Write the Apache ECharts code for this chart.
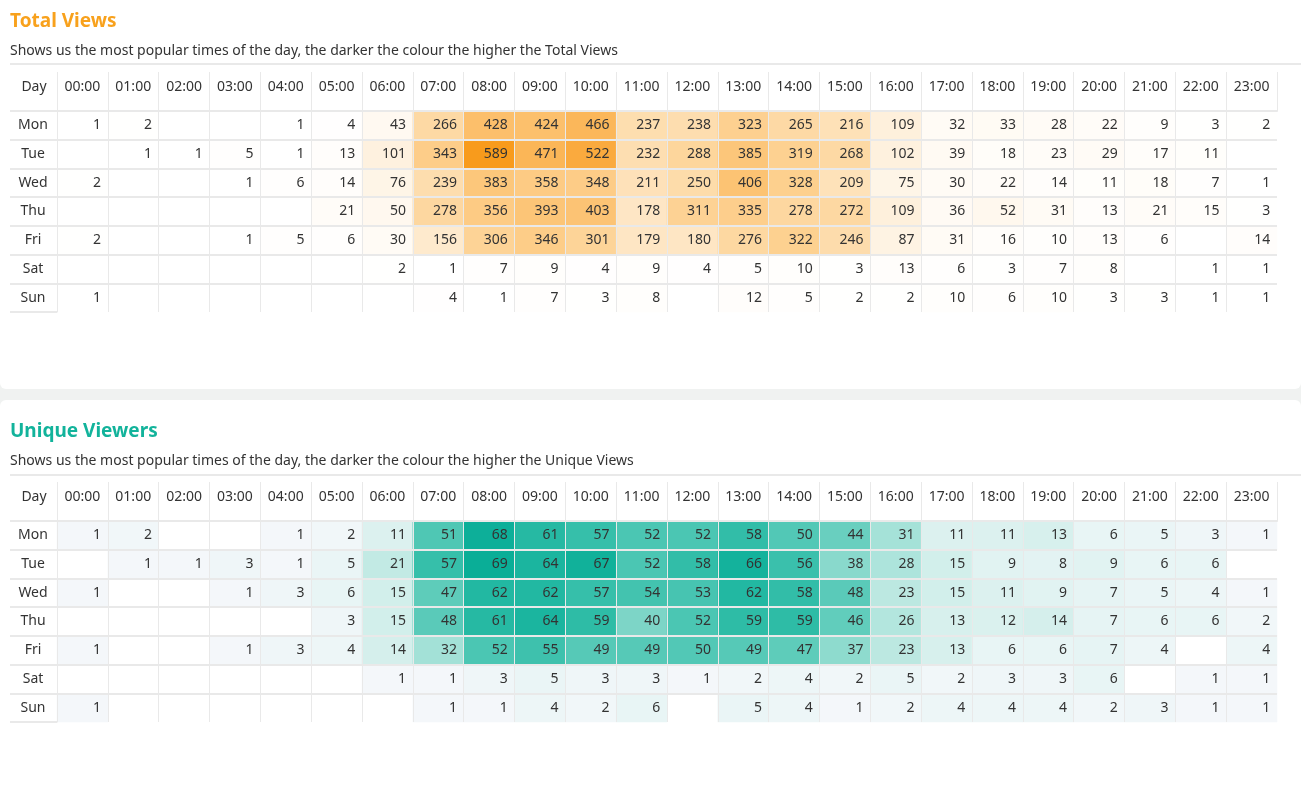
<!DOCTYPE html>
<html>
<head>
<meta charset="utf-8">
<title>Views heatmap</title>
<script src="https://cdn.jsdelivr.net/npm/echarts@6/dist/echarts.min.js"></script>
<style>
  html, body { margin: 0; padding: 0; background: #f0f2f1; }
  #wrap { position: relative; width: 1301px; height: 796px; overflow: hidden; }
  .card { position: absolute; left: 0; width: 1301px; background: #fff; }
  .rule { position: absolute; left: 10px; width: 1291px; height: 2px; background: #e9e9e9; }
  #main { position: absolute; left: 0; top: 0; width: 1301px; height: 796px; }
</style>
</head>
<body>
<div id="wrap">
  <div class="card" style="top:0;height:389px;border-radius:0 0 6px 6px"></div>
  <div class="card" style="top:400px;height:396px;border-radius:6px 6px 0 0"></div>
  <div class="rule" style="top:63px"></div>
  <div class="rule" style="top:474px"></div>
  <div id="main"></div>
</div>
<script>
// 表头
const hours = ['00:00', '01:00', '02:00', '03:00', '04:00', '05:00', '06:00', '07:00',
  '08:00', '09:00', '10:00', '11:00', '12:00', '13:00', '14:00', '15:00',
  '16:00', '17:00', '18:00', '19:00', '20:00', '21:00', '22:00', '23:00']
const days = ['Mon', 'Tue', 'Wed', 'Thu', 'Fri', 'Sat', 'Sun']

// Total Views, one row per day (null = empty cell)
const viewsMon = [1, 2, null, null, 1, 4, 43, 266, 428, 424, 466, 237, 238, 323, 265, 216, 109, 32, 33, 28, 22, 9, 3, 2]
const viewsTue = [null, 1, 1, 5, 1, 13, 101, 343, 589, 471, 522, 232, 288, 385, 319, 268, 102, 39, 18, 23, 29, 17, 11, null]
const viewsWed = [2, null, null, 1, 6, 14, 76, 239, 383, 358, 348, 211, 250, 406, 328, 209, 75, 30, 22, 14, 11, 18, 7, 1]
const viewsThu = [null, null, null, null, null, 21, 50, 278, 356, 393, 403, 178, 311, 335, 278, 272, 109, 36, 52, 31, 13, 21, 15, 3]
const viewsFri = [2, null, null, 1, 5, 6, 30, 156, 306, 346, 301, 179, 180, 276, 322, 246, 87, 31, 16, 10, 13, 6, null, 14]
const viewsSat = [null, null, null, null, null, null, 2, 1, 7, 9, 4, 9, 4, 5, 10, 3, 13, 6, 3, 7, 8, null, 1, 1]
const viewsSun = [1, null, null, null, null, null, null, 4, 1, 7, 3, 8, null, 12, 5, 2, 2, 10, 6, 10, 3, 3, 1, 1]

// Unique Viewers
const uniqMon = [1, 2, null, null, 1, 2, 11, 51, 68, 61, 57, 52, 52, 58, 50, 44, 31, 11, 11, 13, 6, 5, 3, 1]
const uniqTue = [null, 1, 1, 3, 1, 5, 21, 57, 69, 64, 67, 52, 58, 66, 56, 38, 28, 15, 9, 8, 9, 6, 6, null]
const uniqWed = [1, null, null, 1, 3, 6, 15, 47, 62, 62, 57, 54, 53, 62, 58, 48, 23, 15, 11, 9, 7, 5, 4, 1]
const uniqThu = [null, null, null, null, null, 3, 15, 48, 61, 64, 59, 40, 52, 59, 59, 46, 26, 13, 12, 14, 7, 6, 6, 2]
const uniqFri = [1, null, null, 1, 3, 4, 14, 32, 52, 55, 49, 49, 50, 49, 47, 37, 23, 13, 6, 6, 7, 4, null, 4]
const uniqSat = [null, null, null, null, null, null, 1, 1, 3, 5, 3, 3, 1, 2, 4, 2, 5, 2, 3, 3, 6, null, 1, 1]
const uniqSun = [1, null, null, null, null, null, null, 1, 1, 4, 2, 6, null, 5, 4, 1, 2, 4, 4, 4, 2, 3, 1, 1]

const FONT = 'Noto Sans'
const LINE = '#e9e9e9'

function toCells (rows) {
  const out = []
  rows.forEach((row, d) => {
    row.forEach((v, h) => {
      if (v !== null) out.push([h, d, v])
    })
  })
  return out
}

function hourAxis (gi) {
  return {
    type: 'category',
    gridIndex: gi,
    data: hours,
    position: 'top',
    axisLine: {show: true, lineStyle: {color: LINE, width: 2}},
    axisTick: {show: true, length: 39, lineStyle: {color: LINE, width: 1}},
    axisLabel: {margin: 17, color: '#333', fontSize: 14, fontFamily: FONT},
    splitLine: {show: true, showMaxLine: false, lineStyle: {color: LINE, width: 1}}
  }
}

function dayAxis (gi) {
  return {
    type: 'category',
    gridIndex: gi,
    data: days,
    inverse: true,
    name: 'Day',
    nameLocation: 'start',
    nameGap: 24,
    nameTextStyle: {color: '#333', fontSize: 14, fontFamily: FONT, align: 'center', verticalAlign: 'middle', padding: [0, 46, 0, 0]},
    axisLine: {show: true, lineStyle: {color: LINE, width: 1}},
    axisTick: {show: true, length: 47, lineStyle: {color: LINE, width: 2}},
    axisLabel: {margin: 24, align: 'center', color: '#333', fontSize: 14, fontFamily: FONT},
    splitLine: {show: true, showMaxLine: false, lineStyle: {color: LINE, width: 2}}
  }
}

function heat (gi, rows) {
  return {
    type: 'heatmap',
    xAxisIndex: gi,
    yAxisIndex: gi,
    z: -1,  // cells under the table lines
    data: toCells(rows),
    itemStyle: {borderWidth: 0},
    label: {show: true, position: 'insideRight', distance: 7, color: '#333', fontSize: 14, fontFamily: FONT},
    emphasis: {disabled: true}
  }
}

let myChart = echarts.init(document.getElementById('main'), null, {renderer: 'canvas'})

myChart.setOption({
  backgroundColor: 'transparent',
  animation: false,
  title: [
    {
      text: 'Total Views',
      subtext: 'Shows us the most popular times of the day, the darker the colour the higher the Total Views',
      left: 10, top: 9, padding: 0, itemGap: 6,
      textStyle: {color: '#f8a11c', fontSize: 19, fontWeight: 'bold', fontFamily: FONT, lineHeight: 26},
      subtextStyle: {color: '#333', fontSize: 14, fontFamily: FONT, lineHeight: 20}
    },
    {
      text: 'Unique Viewers',
      subtext: 'Shows us the most popular times of the day, the darker the colour the higher the Unique Views',
      left: 10, top: 419, padding: 0, itemGap: 6,
      textStyle: {color: '#12b39b', fontSize: 19, fontWeight: 'bold', fontFamily: FONT, lineHeight: 26},
      subtextStyle: {color: '#333', fontSize: 14, fontFamily: FONT, lineHeight: 20}
    }
  ],
  grid: [
    {left: 57, right: 24, top: 111, height: 201},
    {left: 57, right: 24, top: 521, height: 201}
  ],
  xAxis: [hourAxis(0), hourAxis(1)],
  yAxis: [dayAxis(0), dayAxis(1)],
  visualMap: [
    {
      type: 'continuous', show: false, seriesIndex: 0, min: 0, max: 589,
      inRange: {color: ['#ffffff', '#feebd0', '#fdd59a', '#fcbd66', '#f89b1c']}
    },
    {
      type: 'continuous', show: false, seriesIndex: 1, min: 0, max: 69,
      inRange: {color: ['#f6f8fb', '#e2f3f2', '#cdede8', '#b3e6de', '#9cdfd4', '#6cd0c0', '#4cc6b3', '#28baa4', '#0aae97']}
    }
  ],
  series: [
    heat(0, [viewsMon, viewsTue, viewsWed, viewsThu, viewsFri, viewsSat, viewsSun]),
    heat(1, [uniqMon, uniqTue, uniqWed, uniqThu, uniqFri, uniqSat, uniqSun])
  ]
})
</script>
</body>
</html>
